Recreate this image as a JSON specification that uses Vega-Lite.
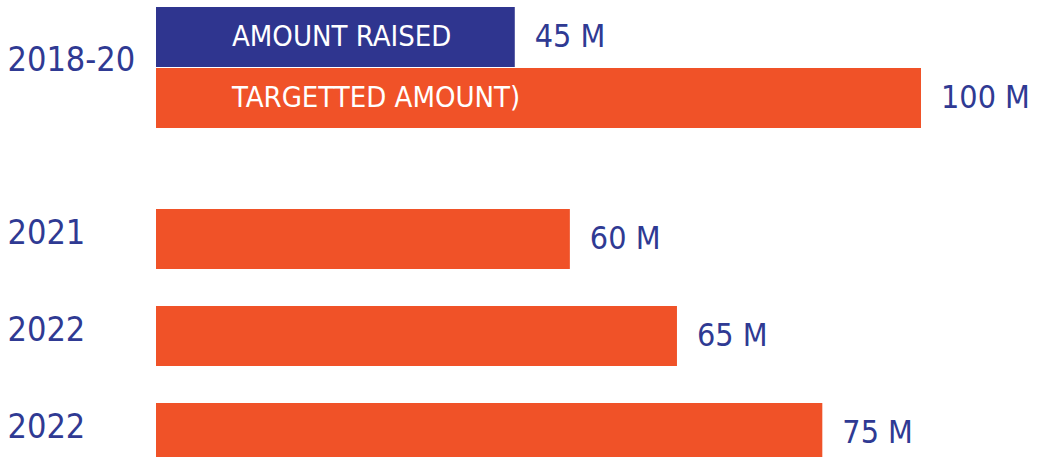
{
  "$schema": "https://vega.github.io/schema/vega-lite/v6.json",
  "background": "white",
  "padding": {"left": 7, "top": 7, "right": 0, "bottom": 0},
  "datasets": {
    "funds": [
      {"key": "2018-20", "period": "2018-20", "series": "Amount raised", "inner": "AMOUNT RAISED", "label": "45 M", "amount": 45, "length": 46.9},
      {"key": "2018-20", "period": "2018-20", "series": "Targetted amount", "inner": "TARGETTED AMOUNT)", "label": "100 M", "amount": 100, "length": 100},
      {"key": "2021", "period": "2021", "series": "Targetted amount", "inner": "", "label": "60 M", "amount": 60, "length": 54.1},
      {"key": "2022", "period": "2022", "series": "Targetted amount", "inner": "", "label": "65 M", "amount": 65, "length": 68.1},
      {"key": "2022-2", "period": "2022", "series": "Targetted amount", "inner": "", "label": "75 M", "amount": 75, "length": 87.1}
    ]
  },
  "config": {
    "view": {"stroke": null},
    "font": "DejaVu Sans Condensed",
    "axis": {
      "domain": false, "ticks": false, "grid": false, "title": null,
      "labelFont": "DejaVu Sans Condensed", "labelFontSize": 34, "labelFontWeight": "normal",
      "labelColor": "#2f3a93", "labelAlign": "left", "labelPadding": 149, "labelBaseline": "middle"
    }
  },
  "spacing": 81,
  "vconcat": [
    {
      "width": 765,
      "height": 121,
      "data": {"name": "funds"},
      "transform": [{"filter": "datum.period == '2018-20'"}],
      "encoding": {
        "y": {"field": "key", "type": "nominal", "scale": {"paddingInner": 0, "paddingOuter": 0}, "axis": {"labelOffset": -7}},
        "yOffset": {"field": "series", "type": "nominal", "sort": ["Amount raised", "Targetted amount"], "scale": {"paddingInner": 0.02, "paddingOuter": 0}}
      },
      "layer": [
        {
          "mark": {"type": "bar"},
          "encoding": {
            "x": {"field": "length", "type": "quantitative", "scale": {"domain": [0, 100], "nice": false}, "axis": null},
            "color": {"field": "series", "type": "nominal", "scale": {"domain": ["Amount raised", "Targetted amount"], "range": ["#2f358f", "#f05228"]}, "legend": null}
          }
        },
        {
          "mark": {"type": "text", "align": "left", "baseline": "middle", "dx": 76, "fontSize": 29, "color": "white", "font": "DejaVu Sans Condensed"},
          "encoding": {
            "x": {"datum": 0, "type": "quantitative"},
            "text": {"field": "inner"}
          }
        },
        {
          "mark": {"type": "text", "align": "left", "baseline": "middle", "dx": 20, "fontSize": 32, "color": "#2f3a93", "font": "DejaVu Sans Condensed"},
          "encoding": {
            "x": {"field": "length", "type": "quantitative"},
            "text": {"field": "label"}
          }
        }
      ]
    },
    {
      "width": 765,
      "height": 254,
      "data": {"name": "funds"},
      "transform": [{"filter": "datum.period != '2018-20'"}],
      "encoding": {
        "y": {"field": "key", "type": "nominal", "sort": ["2021", "2022", "2022-2"], "scale": {"paddingInner": 0.381, "paddingOuter": 0}, "axis": {"labelOffset": -5, "labelExpr": "slice(datum.label, 0, 4)"}}
      },
      "layer": [
        {
          "mark": {"type": "bar", "color": "#f05228"},
          "encoding": {
            "x": {"field": "length", "type": "quantitative", "scale": {"domain": [0, 100], "nice": false}, "axis": null}
          }
        },
        {
          "mark": {"type": "text", "align": "left", "baseline": "middle", "dx": 20, "fontSize": 32, "color": "#2f3a93", "font": "DejaVu Sans Condensed"},
          "encoding": {
            "x": {"field": "length", "type": "quantitative"},
            "text": {"field": "label"}
          }
        }
      ]
    }
  ]
}
